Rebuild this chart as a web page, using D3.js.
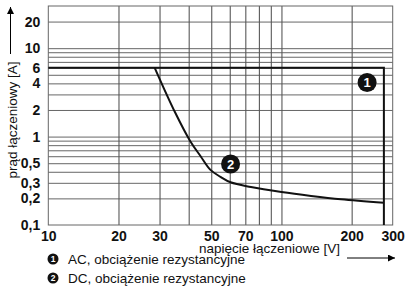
<!DOCTYPE html>
<html>
<head>
<meta charset="utf-8">
<script src="https://cdn.jsdelivr.net/npm/d3@7"></script>
<style>
  html, body { margin: 0; padding: 0; background: #fff; }
  svg { display: block; font-family: "Liberation Sans", Arial, Helvetica, sans-serif; }
</style>
</head>
<body>
<div id="chart"></div>
<script>
// Data
const xTicks = [10, 20, 30, 50, 70, 100, 200, 300];
const yTicks = [0.1, 0.2, 0.3, 0.5, 1, 2, 4, 6, 10, 20];
const xGrid = [20, 30, 40, 50, 60, 70, 80, 90, 100, 200];
const yGrid = [0.2, 0.3, 0.4, 0.5, 0.6, 0.7, 0.8, 0.9, 1, 2, 3, 4, 5, 6, 7, 8, 9, 10, 20];

// curve 1: AC
const acVoltage = [10, 275, 275];
const acCurrent = [6, 6, 0.1];
// curve 2: DC
const dcVoltage = [28.6, 35, 40.7, 45, 49.6, 54.8, 60.5, 74, 100, 134, 180, 275];
const dcCurrent = [6, 1.87, 0.88, 0.6, 0.42, 0.35, 0.304, 0.269, 0.236, 0.213, 0.195, 0.178];

// curve number markers
const markerNames = ["1", "2"];
const markerVoltage = [233, 60.5];
const markerCurrent = [4.1, 0.49];

const legendLabels = ["AC, obciążenie rezystancyjne", "DC, obciążenie rezystancyjne"];

const xTitle = "napięcie łączeniowe [V]";
const yTitle = "prąd łączeniowy [A]";

const width = 405, height = 288;
const margin = { top: 6, right: 12.3, bottom: 63, left: 48.3 };
const innerWidth = width - margin.left - margin.right;
const innerHeight = height - margin.top - margin.bottom;

const svg = d3.select("#chart").append("svg")
  .attr("width", width)
  .attr("height", height);

const defs = svg.append("defs");
defs.append("marker")
  .attr("id", "arrow")
  .attr("viewBox", "0 0 10 10")
  .attr("refX", 10).attr("refY", 5)
  .attr("markerWidth", 10).attr("markerHeight", 7)
  .attr("markerUnits", "userSpaceOnUse")
  .attr("orient", "auto")
  .append("path")
  .attr("d", "M0,0L10,5L0,10z")
  .attr("fill", "#000");

const g = svg.append("g")
  .attr("transform", `translate(${margin.left},${margin.top})`);

const x = d3.scaleLog().domain([10, 300]).range([0, innerWidth]);
const y = d3.scaleLog().domain([0.1, 30]).range([innerHeight, 0]);

const fmt = d => String(d).replace(".", ",");

// gridlines
const xg = g.append("g")
  .attr("transform", `translate(0,${innerHeight})`)
  .call(d3.axisBottom(x).tickValues(xGrid).tickSize(-innerHeight).tickFormat(""));
xg.select(".domain").remove();
xg.selectAll("line").attr("stroke", "#333").attr("stroke-width", 0.9);

const yg = g.append("g")
  .call(d3.axisLeft(y).tickValues(yGrid).tickSize(-innerWidth).tickFormat(""));
yg.select(".domain").remove();
yg.selectAll("line").attr("stroke", "#555").attr("stroke-width", 0.9);

// frame
g.append("rect")
  .attr("x", 0).attr("y", 0)
  .attr("width", innerWidth).attr("height", innerHeight)
  .attr("fill", "none")
  .attr("stroke", "#666")
  .attr("stroke-width", 1);

// tick labels
const xa = g.append("g")
  .attr("transform", `translate(0,${innerHeight})`)
  .call(d3.axisBottom(x).tickValues(xTicks).tickSize(0).tickFormat(d => d));
xa.select(".domain").remove();
xa.selectAll("text")
  .attr("y", 11.5)
  .attr("dy", "0.35em")
  .attr("fill", "#111")
  .style("font-size", "14px")
  .style("font-weight", "bold")
  .style("font-family", "'Liberation Sans', Arial, sans-serif");

const ya = g.append("g")
  .call(d3.axisLeft(y).tickValues(yTicks).tickSize(0).tickPadding(8).tickFormat(fmt));
ya.select(".domain").remove();
ya.selectAll("text")
  .attr("fill", "#111")
  .style("font-size", "14px")
  .style("font-weight", "bold")
  .style("font-family", "'Liberation Sans', Arial, sans-serif");

// curves
const line = d3.line()
  .x(d => x(d[0]))
  .y(d => y(d[1]));

g.append("path")
  .datum(d3.zip(acVoltage, acCurrent))
  .attr("d", line)
  .attr("fill", "none")
  .attr("stroke", "#111")
  .attr("stroke-width", 2);

g.append("path")
  .datum(d3.zip(dcVoltage, dcCurrent))
  .attr("d", line.curve(d3.curveCatmullRom.alpha(0.5)))
  .attr("fill", "none")
  .attr("stroke", "#111")
  .attr("stroke-width", 2);

// numbered markers
const marks = g.selectAll(".mark")
  .data(d3.zip(markerNames, markerVoltage, markerCurrent))
  .enter().append("g")
  .attr("class", "mark")
  .attr("transform", d => `translate(${x(d[1])},${y(d[2])})`);
marks.append("circle").attr("r", 9.5).attr("fill", "#111");
marks.append("text")
  .attr("text-anchor", "middle")
  .attr("dy", "0.36em")
  .attr("fill", "#fff")
  .style("font-size", "13px")
  .style("font-weight", "bold")
  .text(d => d[0]);

// axis titles with arrows
svg.append("text")
  .attr("x", 199)
  .attr("y", 253)
  .attr("fill", "#111")
  .style("font-size", "13.5px")
  .text(xTitle);
svg.append("line")
  .attr("x1", 347).attr("y1", 258)
  .attr("x2", 395).attr("y2", 258)
  .attr("stroke", "#000")
  .attr("stroke-width", 1)
  .attr("marker-end", "url(#arrow)");

svg.append("text")
  .attr("transform", "translate(17,120) rotate(-90)")
  .attr("text-anchor", "middle")
  .attr("fill", "#111")
  .style("font-size", "13.5px")
  .text(yTitle);
svg.append("line")
  .attr("x1", 10.5).attr("y1", 54)
  .attr("x2", 10.5).attr("y2", 7)
  .attr("stroke", "#000")
  .attr("stroke-width", 1)
  .attr("marker-end", "url(#arrow)");

// legend
const legend = svg.selectAll(".legend")
  .data(legendLabels)
  .enter().append("g")
  .attr("class", "legend")
  .attr("transform", (d, i) => `translate(53,${259 + i * 19})`);
legend.append("circle").attr("r", 5.5).attr("fill", "#111");
legend.append("text")
  .attr("text-anchor", "middle")
  .attr("dy", "0.36em")
  .attr("fill", "#fff")
  .style("font-size", "8.5px")
  .style("font-weight", "bold")
  .text((d, i) => markerNames[i]);
legend.append("text")
  .attr("x", 15)
  .attr("dy", "0.36em")
  .attr("fill", "#111")
  .style("font-size", "13.5px")
  .text(d => d);
</script>
</body>
</html>
